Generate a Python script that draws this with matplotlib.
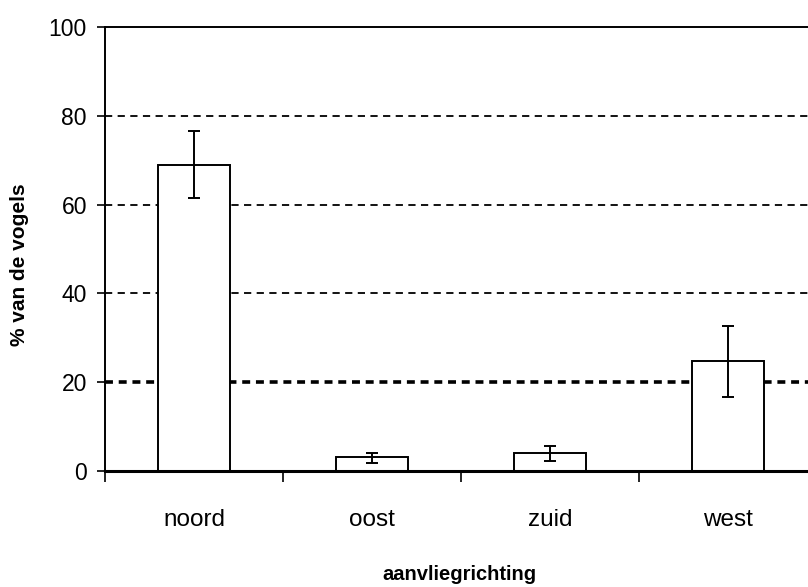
import matplotlib
matplotlib.use("Agg")
import matplotlib.pyplot as plt
import numpy as np

categories = ["noord", "oost", "zuid", "west"]
values = [68.9, 3.1, 4.0, 24.8]
err_low = [61.5, 1.7, 2.3, 16.6]
err_high = [76.6, 4.0, 5.6, 32.6]
yticks = [0, 20, 40, 60, 80, 100]

plt.rcParams['font.family'] = ['Liberation Sans Narrow', 'Liberation Sans', 'DejaVu Sans']

fig = plt.figure(figsize=(8.08, 5.87), dpi=100)
# axes runs past the right edge of the picture, like the cropped scan
ax = fig.add_axes([105 / 808, 116 / 587, 712 / 808, 444 / 587])

x = np.arange(len(categories)) + 0.5
vals = np.array(values)
yerr = [vals - np.array(err_low), np.array(err_high) - vals]

for g in [40, 60, 80]:
    ax.axhline(g, color="black", lw=1.3, ls=(0, (4, 3)), zorder=0)
ax.axhline(20, color="black", lw=2.6, ls=(0, (2.2, 1.6)), zorder=0)

ax.bar(x, vals, width=0.4, color="white", edgecolor="black", lw=1.4, zorder=2)
ax.errorbar(x, vals, yerr=yerr, fmt="none", ecolor="black", elinewidth=1.4,
            capsize=4, capthick=1.4, zorder=3)

ax.set_xlim(0, 4)
ax.set_ylim(0, 100)
ax.set_yticks(yticks)
ax.set_yticklabels([str(t) for t in yticks], fontsize=16.5)
ax.set_xticks([0, 1, 2, 3, 4])
ax.set_xticklabels([])
ax.set_xticks(x, minor=True)
ax.set_xticklabels(categories, minor=True, fontsize=17.5)
ax.tick_params(axis="x", which="minor", length=0, pad=27)
ax.tick_params(axis="x", which="major", length=8, width=1.2, direction="out")
ax.tick_params(axis="y", length=6, width=1.2, direction="out", pad=7)

ax.spines["left"].set_linewidth(1.4)
ax.spines["bottom"].set_linewidth(2.2)
ax.spines["top"].set_linewidth(1.4)
ax.spines["right"].set_visible(False)

fig.text(459 / 808, 1 - 574 / 587, "aanvliegrichting", ha="center", va="center",
         fontsize=14.5, fontweight="bold")
fig.text(20 / 808, 1 - 265 / 587, "% van de vogels", ha="center", va="center",
         rotation=90, fontsize=15, fontweight="bold")

fig.savefig("out.png", dpi=100)
